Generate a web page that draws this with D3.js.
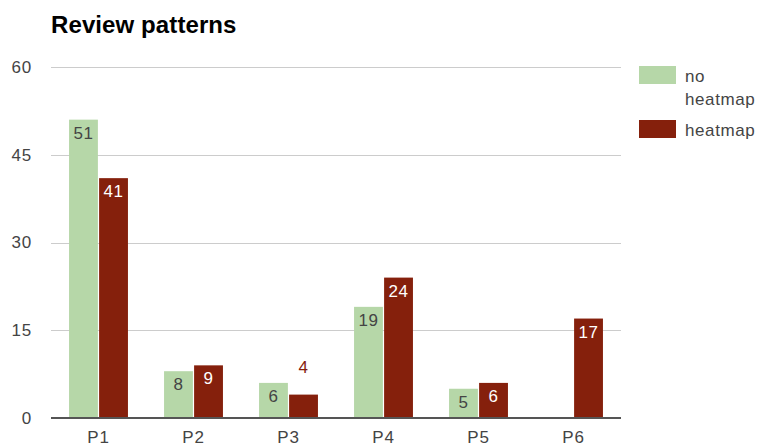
<!DOCTYPE html>
<html>
<head>
<meta charset="utf-8">
<script src="https://cdn.jsdelivr.net/npm/d3@7"></script>
<style>
  html, body { margin: 0; padding: 0; background: #fff; }
  svg { display: block; font-family: Arial, "Liberation Sans", sans-serif; }
</style>
</head>
<body>
<svg id="chart" width="759" height="446"></svg>
<script>
// Review patterns per participant
const categories = ["P1", "P2", "P3", "P4", "P5", "P6"];
const seriesNames = ["no heatmap", "heatmap"];
const noHeatmap = [51, 8, 6, 19, 5, 0];
const heatmap = [41, 9, 4, 24, 6, 17];
const yTicks = [0, 15, 30, 45, 60];
const colors = ["#b6d7a8", "#85200c"];
const labelColors = ["#444444", "#ffffff"];

const seriesValues = [noHeatmap, heatmap];

const svg = d3.select("#chart");
const plotLeft = 51, plotRight = 621, plotTop = 67, plotBottom = 418;
const textFont = "Arial, 'Liberation Sans', sans-serif";

const x0 = d3.scaleBand().domain(categories).range([plotLeft, plotRight])
  .paddingInner(0.38).paddingOuter(0.19);
const x1 = d3.scaleBand().domain(seriesNames).range([0, x0.bandwidth()])
  .paddingInner(0.04);
const y = d3.scaleLinear().domain([0, 60]).range([plotBottom, plotTop]);

// Title
svg.append("text")
  .attr("x", 51).attr("y", 33)
  .attr("font-size", 24).attr("font-weight", "bold").attr("fill", "#000")
  .attr("letter-spacing", 0.1)
  .text("Review patterns");

// Gridlines
svg.append("g").selectAll("line")
  .data(yTicks.filter(d => d !== 0))
  .join("line")
  .attr("x1", plotLeft).attr("x2", plotRight)
  .attr("y1", d => Math.round(y(d)) + 0.5).attr("y2", d => Math.round(y(d)) + 0.5)
  .attr("stroke", "#cccccc").attr("stroke-width", 1);

// Y axis labels
const yAxis = d3.axisLeft(y).tickValues(yTicks).tickSize(0).tickPadding(19);
const yg = svg.append("g").attr("transform", `translate(${plotLeft},0)`).call(yAxis);
yg.select(".domain").remove();
yg.selectAll("text")
  .attr("font-size", 17).attr("fill", "#444").attr("font-family", textFont)
  .attr("letter-spacing", 0.8);

// Bars
const rows = categories.map((c, i) => ({
  cat: c,
  vals: seriesNames.map((s, j) => ({ s, j, v: seriesValues[j][i] }))
}));

const groups = svg.append("g").selectAll("g")
  .data(rows).join("g")
  .attr("transform", d => `translate(${x0(d.cat)},0)`);

groups.selectAll("rect")
  .data(d => d.vals.filter(e => e.v > 0))
  .join("rect")
  .attr("x", d => x1(d.s))
  .attr("width", x1.bandwidth())
  .attr("y", d => y(d.v))
  .attr("height", d => y(0) - y(d.v))
  .attr("fill", d => colors[d.j]);

// Value labels: inside the bar top when it fits, above it otherwise
const fitsInside = d => (y(0) - y(d.v)) > 26;
groups.selectAll("text")
  .data(d => d.vals.filter(e => e.v > 0))
  .join("text")
  .attr("x", d => x1(d.s) + x1.bandwidth() / 2)
  .attr("y", d => fitsInside(d) ? y(d.v) + 19 : y(d.v) - 22)
  .attr("text-anchor", "middle")
  .attr("font-size", 17)
  .attr("letter-spacing", 0.5)
  .attr("fill", d => fitsInside(d) ? labelColors[d.j] : colors[d.j])
  .text(d => d.v);

// Baseline
svg.append("line")
  .attr("x1", plotLeft).attr("x2", plotRight)
  .attr("y1", y(0)).attr("y2", y(0))
  .attr("stroke", "#555").attr("stroke-width", 2);

// X axis labels
const xAxis = d3.axisBottom(x0).tickSize(0).tickPadding(13);
const xg = svg.append("g").attr("transform", `translate(0,${plotBottom})`).call(xAxis);
xg.select(".domain").remove();
xg.selectAll("text")
  .attr("font-size", 17).attr("fill", "#444").attr("font-family", textFont)
  .attr("letter-spacing", 0.8);

// Legend
const legend = svg.append("g");
const legendItems = [
  { lines: ["no", "heatmap"], color: colors[0], y: 66 },
  { lines: ["heatmap"], color: colors[1], y: 120 }
];
legendItems.forEach(item => {
  legend.append("rect")
    .attr("x", 639).attr("y", item.y).attr("width", 37).attr("height", 18)
    .attr("fill", item.color);
  const t = legend.append("text")
    .attr("x", 685).attr("y", item.y + 16)
    .attr("font-size", 17).attr("fill", "#444")
    .attr("letter-spacing", 0.6);
  item.lines.forEach((ln, k) => {
    t.append("tspan").attr("x", 685).attr("dy", k === 0 ? 0 : 23).text(ln);
  });
});
</script>
</body>
</html>
